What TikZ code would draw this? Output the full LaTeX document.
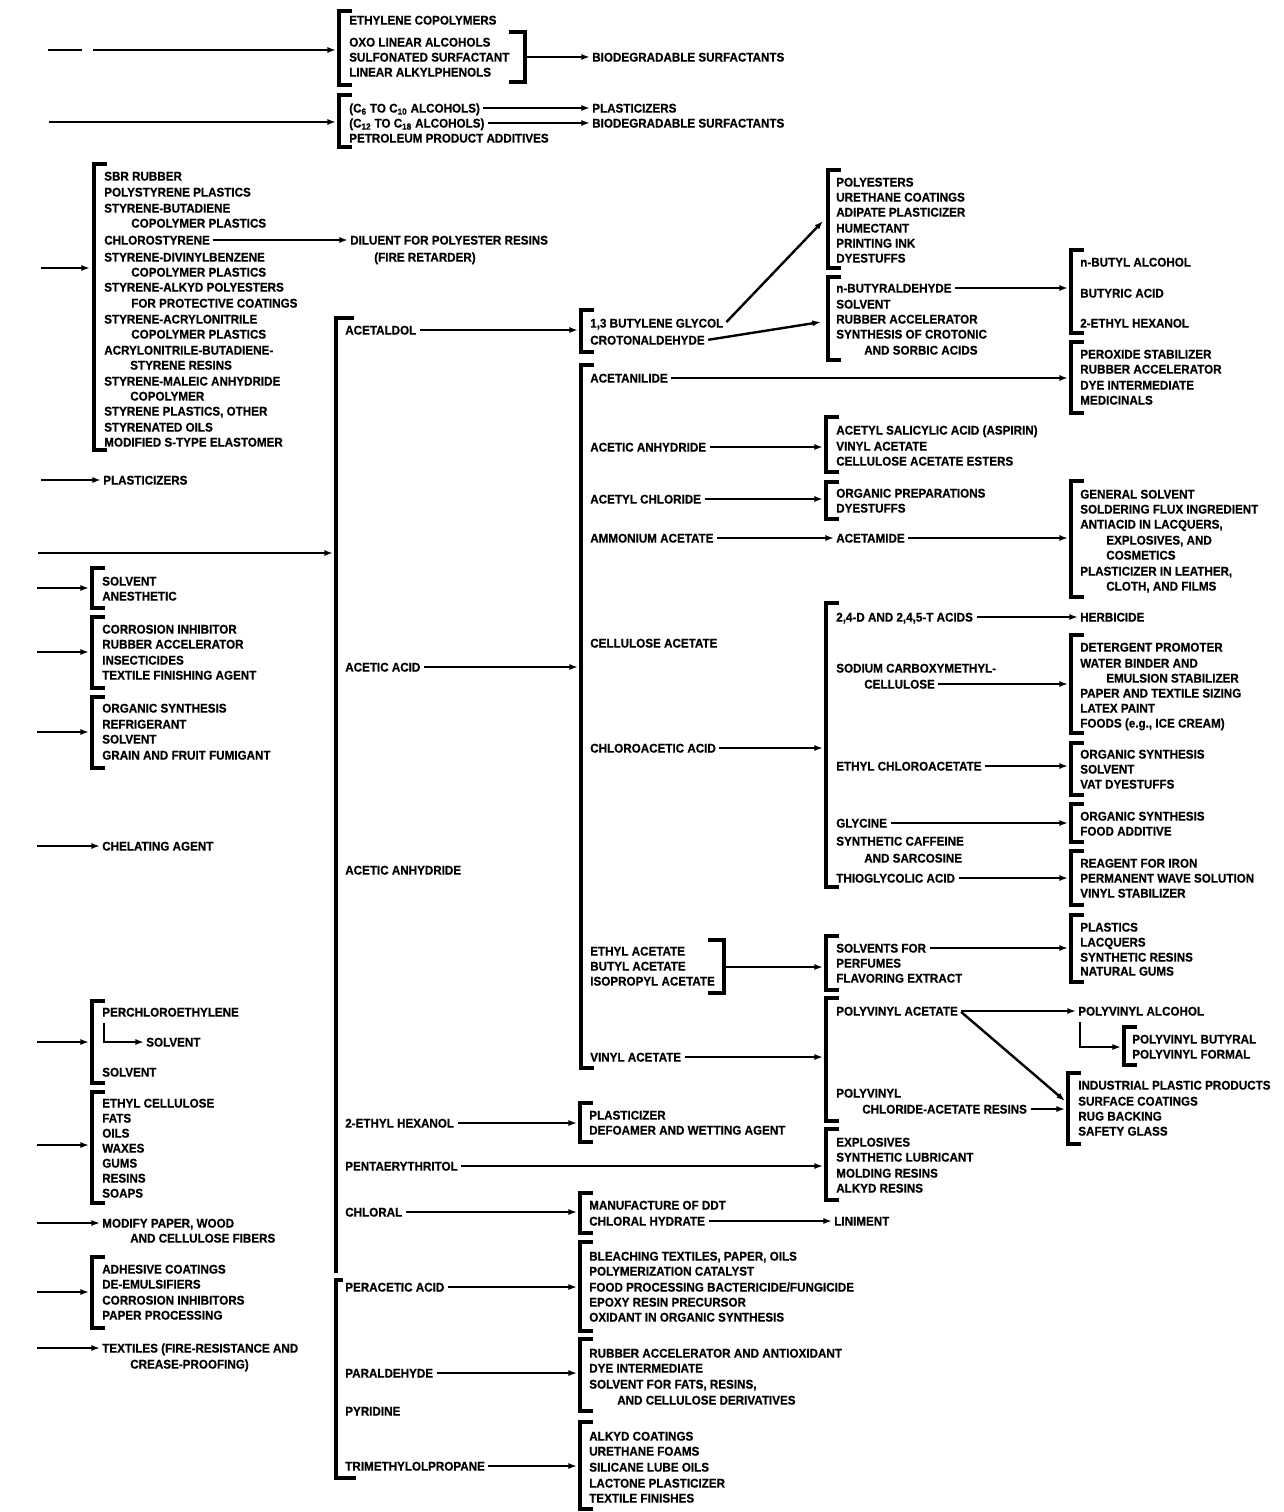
\documentclass[tikz,border=0pt]{standalone}
\usepackage{fontspec}
\usetikzlibrary{arrows.meta}
\newfontfamily\lblfam{Liberation Sans}[FakeStretch=0.92,BoldFeatures={FakeBold=0.6}]
\newcommand{\mkbrL}[3]{\draw[br] ({#1+13},#2) -- (#1,#2) -- (#1,#3) -- ({#1+13},#3);}
\newcommand{\mkbrR}[3]{\draw[br] ({#1-16},#2) -- (#1,#2) -- (#1,#3) -- ({#1-16},#3);}
\begin{document}
\begin{tikzpicture}[x=0.75pt,y=-0.75pt,
 t/.style={anchor=west,inner xsep=1.5pt,inner ysep=0pt,text height=6.9pt,text depth=0pt,font=\lblfam\bfseries\fontsize{9.5pt}{10pt}\selectfont},
 br/.style={line width=2.3pt},
 ar/.style={line width=1.8pt,shorten <=1pt,-{Latex[length=6.5pt,width=4.6pt]}},
 ln/.style={line width=1.8pt}]
\fill[white] (0,0) rectangle (1283,1512);
\useasboundingbox (0,0) rectangle (1283,1512);

% ---------- top block 1
\node[t] (ethco) at (347,20) {ETHYLENE COPOLYMERS};
\node[t] (oxo) at (347,42) {OXO LINEAR ALCOHOLS};
\node[t] (sulf) at (347,57) {SULFONATED SURFACTANT};
\node[t] (linalk) at (347,72) {LINEAR ALKYLPHENOLS};
\mkbrL{339}{11}{85}
\mkbrR{525}{32}{82}
\coordinate (rb1) at (525,57);
\node[t] (biod1) at (590,57) {BIODEGRADABLE SURFACTANTS};
\draw[ar] (rb1) -- (biod1.west);
\coordinate (d0) at (48,50); \coordinate (d1) at (82,50);
\coordinate (d2) at (92,50); \coordinate (d3) at (336,50);
\draw[ln] (d0) -- (d1); \draw[ar] (d2) -- (d3);

% ---------- top block 2
\mkbrL{339}{95}{147}
\coordinate (d4) at (48,122); \coordinate (d5) at (336,122);
\draw[ar] (d4) -- (d5);
\node[t] (c6) at (347,108) {(C\textsubscript{6} TO C\textsubscript{10} ALCOHOLS)};
\node[t] (c12) at (347,123) {(C\textsubscript{12} TO C\textsubscript{18} ALCOHOLS)};
\node[t] (petro) at (347,138) {PETROLEUM PRODUCT ADDITIVES};
\node[t] (plast1) at (590,108) {PLASTICIZERS};
\node[t] (biod2) at (590,123) {BIODEGRADABLE SURFACTANTS};
\draw[ar] (c6.east) -- (plast1.west);
\draw[ar] (c12.east) -- (biod2.west);

% ---------- styrene block
\mkbrL{94}{164}{450}
\coordinate (d6) at (40,268); \coordinate (d7) at (90,268);
\draw[ar] (d6) -- (d7);
\node[t] (sbr) at (102,176) {SBR RUBBER};
\node[t] (polyst) at (102,192) {POLYSTYRENE PLASTICS};
\node[t] (sbd) at (102,208) {STYRENE-BUTADIENE};
\node[t] (cop1) at (129,223) {COPOLYMER PLASTICS};
\node[t] (chlst) at (102,240) {CHLOROSTYRENE};
\node[t] (sdvb) at (102,257) {STYRENE-DIVINYLBENZENE};
\node[t] (cop2) at (129,272) {COPOLYMER PLASTICS};
\node[t] (salk) at (102,287) {STYRENE-ALKYD POLYESTERS};
\node[t] (fpc) at (129,303) {FOR PROTECTIVE COATINGS};
\node[t] (sacr) at (102,319) {STYRENE-ACRYLONITRILE};
\node[t] (cop3) at (129,334) {COPOLYMER PLASTICS};
\node[t] (abs) at (102,350) {ACRYLONITRILE-BUTADIENE-};
\node[t] (sres) at (128,365) {STYRENE RESINS};
\node[t] (smal) at (102,381) {STYRENE-MALEIC ANHYDRIDE};
\node[t] (cop4) at (128,396) {COPOLYMER};
\node[t] (spo) at (102,411) {STYRENE PLASTICS, OTHER};
\node[t] (soil) at (102,427) {STYRENATED OILS};
\node[t] (mst) at (102,442) {MODIFIED S-TYPE ELASTOMER};
\node[t] (dil) at (348,240) {DILUENT FOR POLYESTER RESINS};
\node[t] (fire) at (372,257) {(FIRE RETARDER)};
\draw[ar] (chlst.east) -- (dil.west);

% ---------- left column
\coordinate (d8) at (40,480);
\node[t] (plast2) at (101,480) {PLASTICIZERS};
\draw[ar] (d8) -- (plast2.west);
\coordinate (d9) at (37,553); \coordinate (d10) at (333,553);
\draw[ar] (d9) -- (d10);

\mkbrL{92}{568}{608}
\node[t] (solv4) at (100,581) {SOLVENT};
\node[t] (anest) at (100,596) {ANESTHETIC};
\coordinate (a1) at (36,588); \coordinate (b1) at (89,588); \draw[ar] (a1) -- (b1);

\mkbrL{92}{617}{688}
\node[t] (corr) at (100,629) {CORROSION INHIBITOR};
\node[t] (rubac4) at (100,644) {RUBBER ACCELERATOR};
\node[t] (insect) at (100,660) {INSECTICIDES};
\node[t] (textfin2) at (100,675) {TEXTILE FINISHING AGENT};
\coordinate (a2) at (36,652); \coordinate (b2) at (89,652); \draw[ar] (a2) -- (b2);

\mkbrL{92}{697}{768}
\node[t] (orgsyn3) at (100,708) {ORGANIC SYNTHESIS};
\node[t] (refrig) at (100,724) {REFRIGERANT};
\node[t] (solv5) at (100,739) {SOLVENT};
\node[t] (grain) at (100,755) {GRAIN AND FRUIT FUMIGANT};
\coordinate (a3) at (36,732); \coordinate (b3) at (89,732); \draw[ar] (a3) -- (b3);

\coordinate (a4) at (36,846);
\node[t] (chel) at (100,846) {CHELATING AGENT};
\draw[ar] (a4) -- (chel.west);

\mkbrL{92}{1001}{1083}
\node[t] (perchl) at (100,1012) {PERCHLOROETHYLENE};
\node[t] (solv6) at (144,1042) {SOLVENT};
\node[t] (solv7) at (100,1072) {SOLVENT};
\coordinate (pe1) at (104,1022);
\draw[ar] (pe1) |- (solv6.west);
\coordinate (a5) at (36,1042); \coordinate (b5) at (89,1042); \draw[ar] (a5) -- (b5);

\mkbrL{92}{1092}{1203}
\node[t] (ethcell) at (100,1103) {ETHYL CELLULOSE};
\node[t] (fats) at (100,1118) {FATS};
\node[t] (oils) at (100,1133) {OILS};
\node[t] (waxes) at (100,1148) {WAXES};
\node[t] (gums) at (100,1163) {GUMS};
\node[t] (resins) at (100,1178) {RESINS};
\node[t] (soaps) at (100,1193) {SOAPS};
\coordinate (a6) at (36,1145); \coordinate (b6) at (89,1145); \draw[ar] (a6) -- (b6);

\coordinate (a7) at (36,1223);
\node[t] (modify) at (100,1223) {MODIFY PAPER, WOOD};
\node[t] (cellfib) at (128,1238) {AND CELLULOSE FIBERS};
\draw[ar] (a7) -- (modify.west);

\mkbrL{92}{1257}{1328}
\node[t] (adh) at (100,1269) {ADHESIVE COATINGS};
\node[t] (deem) at (100,1284) {DE-EMULSIFIERS};
\node[t] (corr2) at (100,1300) {CORROSION INHIBITORS};
\node[t] (paperproc) at (100,1315) {PAPER PROCESSING};
\coordinate (a8) at (36,1292); \coordinate (b8) at (89,1292); \draw[ar] (a8) -- (b8);

\coordinate (a9) at (36,1348);
\node[t] (textiles) at (100,1348) {TEXTILES (FIRE-RESISTANCE AND};
\node[t] (crease) at (128,1364) {CREASE-PROOFING)};
\draw[ar] (a9) -- (textiles.west);

% ---------- main column
\draw[br] (354,318) -- (336,318) -- (336,1273);
\draw[br] (343,1280) -- (336,1280) -- (336,1478) -- (356,1478);
\node[t] (acetaldol) at (343,330) {ACETALDOL};
\node[t] (aceticacid) at (343,667) {ACETIC ACID};
\node[t] (aceanh) at (343,870) {ACETIC ANHYDRIDE};
\node[t] (ethhex) at (343,1123) {2-ETHYL HEXANOL};
\node[t] (penta) at (343,1166) {PENTAERYTHRITOL};
\node[t] (chloral) at (343,1212) {CHLORAL};
\node[t] (peracetic) at (343,1287) {PERACETIC ACID};
\node[t] (paraldehyde) at (343,1373) {PARALDEHYDE};
\node[t] (pyridine) at (343,1411) {PYRIDINE};
\node[t] (tmp) at (343,1466) {TRIMETHYLOLPROPANE};

% ---------- second column
\mkbrL{581}{310}{352}
\node[t] (butgly) at (588,323) {1,3 BUTYLENE GLYCOL};
\node[t] (croton) at (588,340) {CROTONALDEHYDE};
\coordinate (k1) at (578,330); \draw[ar] (acetaldol.east) -- (k1);

\mkbrL{581}{365}{1068}
\node[t] (acetanilide) at (588,378) {ACETANILIDE};
\node[t] (aanh2) at (588,447) {ACETIC ANHYDRIDE};
\node[t] (acl) at (588,499) {ACETYL CHLORIDE};
\node[t] (amac) at (588,538) {AMMONIUM ACETATE};
\node[t] (celac) at (588,643) {CELLULOSE ACETATE};
\node[t] (chloroac) at (588,748) {CHLOROACETIC ACID};
\node[t] (ethac) at (588,951) {ETHYL ACETATE};
\node[t] (butac) at (588,966) {BUTYL ACETATE};
\node[t] (isoac) at (588,981) {ISOPROPYL ACETATE};
\node[t] (vinac) at (588,1057) {VINYL ACETATE};
\coordinate (k2) at (578,667); \draw[ar] (aceticacid.east) -- (k2);
\mkbrR{724}{940}{993}
\coordinate (rb2) at (724,967);

\mkbrL{580}{1103}{1142}
\node[t] (plasticizer) at (587,1115) {PLASTICIZER};
\node[t] (defoamer) at (587,1130) {DEFOAMER AND WETTING AGENT};
\coordinate (k3) at (577,1123); \draw[ar] (ethhex.east) -- (k3);

\mkbrL{580}{1193}{1233}
\node[t] (ddt) at (587,1205) {MANUFACTURE OF DDT};
\node[t] (chlhyd) at (587,1221) {CHLORAL HYDRATE};
\coordinate (k4) at (577,1212); \draw[ar] (chloral.east) -- (k4);

\mkbrL{580}{1242}{1331}
\node[t] (bleach) at (587,1256) {BLEACHING TEXTILES, PAPER, OILS};
\node[t] (polycat) at (587,1271) {POLYMERIZATION CATALYST};
\node[t] (foodproc) at (587,1287) {FOOD PROCESSING BACTERICIDE/FUNGICIDE};
\node[t] (epoxy) at (587,1302) {EPOXY RESIN PRECURSOR};
\node[t] (oxid) at (587,1317) {OXIDANT IN ORGANIC SYNTHESIS};
\coordinate (k5) at (577,1287); \draw[ar] (peracetic.east) -- (k5);

\mkbrL{580}{1339}{1411}
\node[t] (rubac) at (587,1353) {RUBBER ACCELERATOR AND ANTIOXIDANT};
\node[t] (dyeint) at (587,1368) {DYE INTERMEDIATE};
\node[t] (solvfat) at (587,1384) {SOLVENT FOR FATS, RESINS,};
\node[t] (andcell) at (615,1400) {AND CELLULOSE DERIVATIVES};
\coordinate (k6) at (577,1373); \draw[ar] (paraldehyde.east) -- (k6);

\mkbrL{580}{1422}{1509}
\node[t] (alkyd) at (587,1436) {ALKYD COATINGS};
\node[t] (urefoam) at (587,1451) {URETHANE FOAMS};
\node[t] (silicane) at (587,1467) {SILICANE LUBE OILS};
\node[t] (lactone) at (587,1483) {LACTONE PLASTICIZER};
\node[t] (textfin) at (587,1498) {TEXTILE FINISHES};
\coordinate (k7) at (577,1466); \draw[ar] (tmp.east) -- (k7);

% ---------- third column
\mkbrL{828}{170}{268}
\node[t] (polyest) at (834,182) {POLYESTERS};
\node[t] (urecoat) at (834,197) {URETHANE COATINGS};
\node[t] (adip) at (834,212) {ADIPATE PLASTICIZER};
\node[t] (humect) at (834,228) {HUMECTANT};
\node[t] (printink) at (834,243) {PRINTING INK};
\node[t] (dyes1) at (834,258) {DYESTUFFS};
\coordinate (k8) at (823,221); \draw[ar] (butgly.east) -- (k8);

\mkbrL{828}{277}{360}
\node[t] (nbutyr) at (834,288) {n-BUTYRALDEHYDE};
\node[t] (solv2) at (834,304) {SOLVENT};
\node[t] (rubac2) at (834,319) {RUBBER ACCELERATOR};
\node[t] (synth) at (834,334) {SYNTHESIS OF CROTONIC};
\node[t] (sorbic) at (862,350) {AND SORBIC ACIDS};
\coordinate (k9) at (821,322); \draw[ar] (croton.east) -- (k9);
\coordinate (k10) at (1068,288); \draw[ar] (nbutyr.east) -- (k10);
\coordinate (k11) at (1068,378); \draw[ar] (acetanilide.east) -- (k11);

\mkbrL{826}{417}{472}
\node[t] (asa) at (834,430) {ACETYL SALICYLIC ACID (ASPIRIN)};
\node[t] (vinac2) at (834,446) {VINYL ACETATE};
\node[t] (celest) at (834,461) {CELLULOSE ACETATE ESTERS};
\coordinate (k12) at (823,447); \draw[ar] (aanh2.east) -- (k12);

\mkbrL{826}{482}{519}
\node[t] (orgprep) at (834,493) {ORGANIC PREPARATIONS};
\node[t] (dyes2) at (834,508) {DYESTUFFS};
\coordinate (k13) at (823,499); \draw[ar] (acl.east) -- (k13);

\node[t] (acetamide) at (834,538) {ACETAMIDE};
\draw[ar] (amac.east) -- (acetamide.west);
\coordinate (k14) at (1068,538); \draw[ar] (acetamide.east) -- (k14);

\mkbrL{826}{603}{887}
\node[t] (d24) at (834,617) {2,4-D AND 2,4,5-T ACIDS};
\node[t] (sodium) at (834,668) {SODIUM CARBOXYMETHYL-};
\node[t] (cellulose) at (862,684) {CELLULOSE};
\node[t] (ethchl) at (834,766) {ETHYL CHLOROACETATE};
\node[t] (glycine) at (834,823) {GLYCINE};
\node[t] (caffeine) at (834,841) {SYNTHETIC CAFFEINE};
\node[t] (sarc) at (862,858) {AND SARCOSINE};
\node[t] (thiog) at (834,878) {THIOGLYCOLIC ACID};
\coordinate (k15) at (823,748); \draw[ar] (chloroac.east) -- (k15);
\node[t] (herb) at (1078,617) {HERBICIDE};
\draw[ar] (d24.east) -- (herb.west);
\coordinate (k16) at (1068,684); \draw[ar] (cellulose.east) -- (k16);
\coordinate (k17) at (1068,766); \draw[ar] (ethchl.east) -- (k17);
\coordinate (k18) at (1068,823); \draw[ar] (glycine.east) -- (k18);
\coordinate (k19) at (1068,878); \draw[ar] (thiog.east) -- (k19);

\mkbrL{826}{936}{990}
\node[t] (solvfor) at (834,948) {SOLVENTS FOR};
\node[t] (perf) at (834,963) {PERFUMES};
\node[t] (flav) at (834,978) {FLAVORING EXTRACT};
\coordinate (k20) at (823,967); \draw[ar] (rb2) -- (k20);
\coordinate (k21) at (1068,948); \draw[ar] (solvfor.east) -- (k21);

\mkbrL{826}{998}{1121}
\node[t] (pva) at (834,1011) {POLYVINYL ACETATE};
\node[t] (pvc1) at (834,1093) {POLYVINYL};
\node[t] (pvc2) at (860,1109) {CHLORIDE-ACETATE RESINS};
\coordinate (k22) at (823,1057); \draw[ar] (vinac.east) -- (k22);
\node[t] (pvalc) at (1076,1011) {POLYVINYL ALCOHOL};
\draw[ar] (pva.east) -- (pvalc.west);
\coordinate (k23) at (1065,1101); \draw[ar] (pva.east) -- (k23);
\coordinate (k24) at (1065,1109); \draw[ar] (pvc2.east) -- (k24);

\mkbrL{826}{1129}{1200}
\node[t] (explos) at (834,1142) {EXPLOSIVES};
\node[t] (synlub) at (834,1157) {SYNTHETIC LUBRICANT};
\node[t] (molding) at (834,1173) {MOLDING RESINS};
\node[t] (alkydres) at (834,1188) {ALKYD RESINS};
\coordinate (k25) at (823,1166); \draw[ar] (penta.east) -- (k25);

\node[t] (liniment) at (832,1221) {LINIMENT};
\draw[ar] (chlhyd.east) -- (liniment.west);

% ---------- fourth column
\mkbrL{1071}{250}{333}
\node[t] (nbutal) at (1078,262) {n-BUTYL ALCOHOL};
\node[t] (butyric) at (1078,293) {BUTYRIC ACID};
\node[t] (ehex2) at (1078,323) {2-ETHYL HEXANOL};

\mkbrL{1071}{342}{413}
\node[t] (perox) at (1078,354) {PEROXIDE STABILIZER};
\node[t] (rubac3) at (1078,369) {RUBBER ACCELERATOR};
\node[t] (dyeint2) at (1078,385) {DYE INTERMEDIATE};
\node[t] (medic) at (1078,400) {MEDICINALS};

\mkbrL{1071}{481}{597}
\node[t] (gensolv) at (1078,494) {GENERAL SOLVENT};
\node[t] (solder) at (1078,509) {SOLDERING FLUX INGREDIENT};
\node[t] (antiacid) at (1078,524) {ANTIACID IN LACQUERS,};
\node[t] (explos2) at (1104,540) {EXPLOSIVES, AND};
\node[t] (cosm) at (1104,555) {COSMETICS};
\node[t] (plastleather) at (1078,571) {PLASTICIZER IN LEATHER,};
\node[t] (cloth) at (1104,586) {CLOTH, AND FILMS};

\mkbrL{1071}{635}{733}
\node[t] (deterg) at (1078,647) {DETERGENT PROMOTER};
\node[t] (water) at (1078,663) {WATER BINDER AND};
\node[t] (emuls) at (1104,678) {EMULSION STABILIZER};
\node[t] (papsize) at (1078,693) {PAPER AND TEXTILE SIZING};
\node[t] (latex) at (1078,708) {LATEX PAINT};
\node[t] (foods) at (1078,723) {FOODS (e.g., ICE CREAM)};

\mkbrL{1071}{743}{795}
\node[t] (orgsyn1) at (1078,754) {ORGANIC SYNTHESIS};
\node[t] (solv3) at (1078,769) {SOLVENT};
\node[t] (vat) at (1078,784) {VAT DYESTUFFS};

\mkbrL{1071}{804}{842}
\node[t] (orgsyn2) at (1078,816) {ORGANIC SYNTHESIS};
\node[t] (foodadd) at (1078,831) {FOOD ADDITIVE};

\mkbrL{1071}{851}{905}
\node[t] (reagent) at (1078,863) {REAGENT FOR IRON};
\node[t] (perm) at (1078,878) {PERMANENT WAVE SOLUTION};
\node[t] (vinstab) at (1078,893) {VINYL STABILIZER};

\mkbrL{1071}{915}{982}
\node[t] (plastics) at (1078,927) {PLASTICS};
\node[t] (lacq) at (1078,942) {LACQUERS};
\node[t] (synres) at (1078,957) {SYNTHETIC RESINS};
\node[t] (natgum) at (1078,971) {NATURAL GUMS};

\coordinate (el1) at (1080,1021);
\mkbrL{1124}{1027}{1065}
\node[t] (pvb) at (1130,1039) {POLYVINYL BUTYRAL};
\node[t] (pvf) at (1130,1054) {POLYVINYL FORMAL};
\coordinate (el2) at (1121,1047);
\draw[ar] (el1) |- (el2);

\mkbrL{1068}{1073}{1144}
\node[t] (ind) at (1076,1085) {INDUSTRIAL PLASTIC PRODUCTS};
\node[t] (surf) at (1076,1101) {SURFACE COATINGS};
\node[t] (rug) at (1076,1116) {RUG BACKING};
\node[t] (safety) at (1076,1131) {SAFETY GLASS};
\end{tikzpicture}
\end{document}
